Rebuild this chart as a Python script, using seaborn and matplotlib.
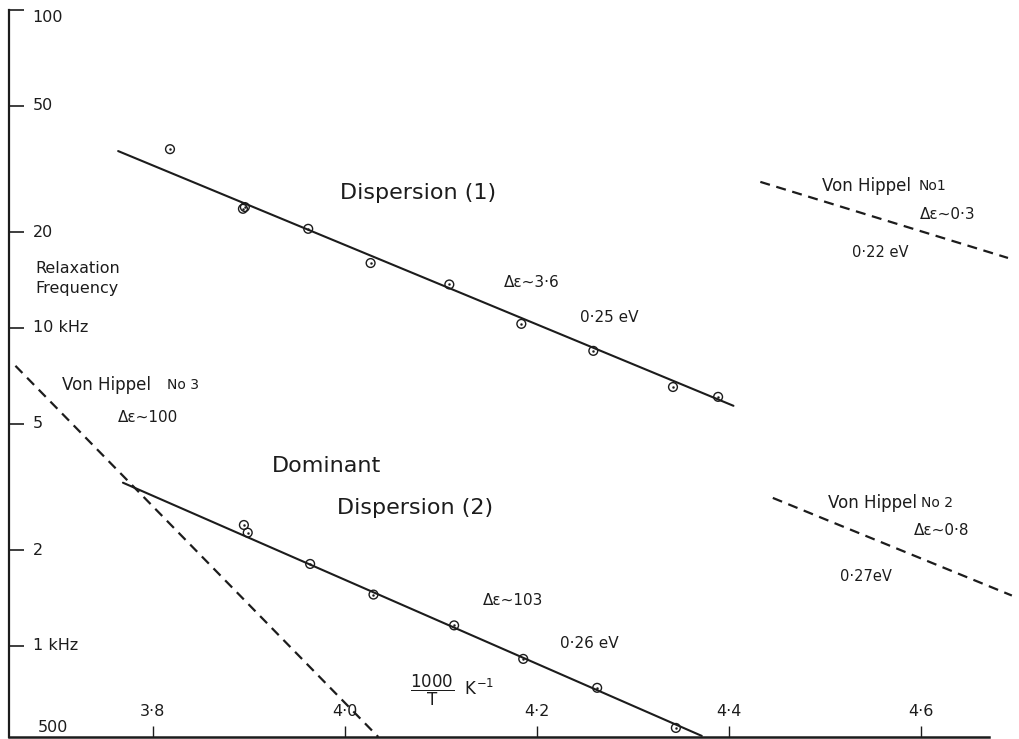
import numpy as np
import matplotlib
matplotlib.use("Agg")
import matplotlib.pyplot as plt
import seaborn as sns
import pandas as pd
from matplotlib.ticker import NullLocator

# measured points, x = 1000/T (K^-1), f = relaxation frequency (kHz)
disp1_x = [3.818, 3.894, 3.896, 3.962, 4.027, 4.109, 4.184, 4.259, 4.342, 4.389]
disp1_f = [36.5, 23.7, 24.0, 20.5, 16.0, 13.7, 10.3, 8.47, 6.52, 6.07]
disp2_x = [3.895, 3.899, 3.964, 4.030, 4.114, 4.186, 4.263, 4.345]
disp2_f = [2.40, 2.27, 1.81, 1.45, 1.16, 0.910, 0.738, 0.552]

# fitted lines (end points)
disp1_line_x = [3.764, 4.405]
disp1_line_f = [36.0, 5.69]
disp2_line_x = [3.769, 4.372]
disp2_line_f = [3.26, 0.521]

# von Hippel lines (dashed)
vh1_x = [4.433, 4.691]
vh1_f = [28.8, 16.6]
vh2_x = [4.446, 4.695]
vh2_f = [2.92, 1.44]
vh3_x = [3.657, 4.035]
vh3_f = [7.60, 0.517]

x_ticks = [3.8, 4.0, 4.2, 4.4, 4.6]
x_tick_labels = ["3·8", "4·0", "4·2", "4·4", "4·6"]
y_ticks = [1, 2, 5, 10, 20, 50, 100]
y_tick_labels = ["1 kHz", "2", "5", "10 kHz", "20", "50", "100"]

sns.set_theme(style="white")
plt.rcParams["font.family"] = ["DejaVu Sans"]
plt.rcParams["mathtext.default"] = "regular"

ink = "#1c1c1c"

fig = plt.figure(figsize=(10.2, 7.39), dpi=100)
ax = fig.add_axes([9 / 1020, 2.3 / 739, 1 - 9 / 1020, 726.7 / 739])

# fitted lines
sns.lineplot(x=disp1_line_x, y=disp1_line_f, color=ink, lw=1.5, sort=False, estimator=None, ax=ax)
sns.lineplot(x=disp2_line_x, y=disp2_line_f, color=ink, lw=1.5, sort=False, estimator=None, ax=ax)

# von Hippel dashed lines
for xs, fs in [(vh1_x, vh1_f), (vh2_x, vh2_f), (vh3_x, vh3_f)]:
    sns.lineplot(x=xs, y=fs, color=ink, lw=1.6, linestyle=(0, (4.5, 3)),
                 sort=False, estimator=None, ax=ax)

# data points: open circle with a dot in the middle
pts = pd.DataFrame({
    "x": disp1_x + disp2_x,
    "f": disp1_f + disp2_f,
})
sns.scatterplot(data=pts, x="x", y="f", marker="o", s=40, facecolor="none",
                edgecolor=ink, linewidth=1.0, ax=ax, zorder=3)
sns.scatterplot(data=pts, x="x", y="f", marker="o", s=2, color=ink,
                edgecolor=ink, linewidth=0.3, ax=ax, zorder=4)

ax.set_yscale("log")
ax.set_xlim(3.6503, 4.7035)
ax.set_ylim(0.518, 100)
ax.yaxis.set_minor_locator(NullLocator())
ax.xaxis.set_minor_locator(NullLocator())

ax.set_yticks(y_ticks, y_tick_labels, ha="left", va="center", fontsize=11.5, color=ink)
ax.set_xticks(x_ticks, x_tick_labels, va="bottom", fontsize=11.5, color=ink)
ax.get_yticklabels()[-1].set_va("top")
ax.tick_params(axis="y", which="major", left=True, direction="in", length=11,
               width=1.2, pad=-17, colors=ink)
ax.tick_params(axis="x", which="major", bottom=True, direction="in", length=8,
               width=1.0, pad=-13, colors=ink)
ax.set_xlabel("")
ax.set_ylabel("")

for side in ["top", "right"]:
    ax.spines[side].set_visible(False)
ax.spines["left"].set_linewidth(1.6)
ax.spines["left"].set_color(ink)
ax.spines["bottom"].set_linewidth(1.8)
ax.spines["bottom"].set_color(ink)
ax.spines["bottom"].set_bounds(3.6503, 4.6712)
ax.grid(False)

# annotations
def note(x, y, s, size=11.5, **kw):
    ax.text(x, y, s, fontsize=size, color=ink, ha="left", va="center", **kw)

note(3.6805, 0.552, "500")
note(3.678, 14.3, "Relaxation\nFrequency", size=11.5, linespacing=1.45)
note(4.068, 0.727, r"$\dfrac{1000}{T}$  K$^{-1}$", size=12)

note(3.995, 26.6, "Dispersion (1)", size=16)
note(4.166, 13.85, "Δε~3·6", size=11)
note(4.245, 10.75, "0·25 eV", size=11)

note(3.924, 3.68, "Dominant", size=16)
note(3.992, 2.72, "Dispersion (2)", size=16)
note(4.144, 1.385, "Δε~103", size=11)
note(4.224, 1.02, "0·26 eV", size=11)

note(3.7055, 6.62, "Von Hippel", size=12)
note(3.815, 6.62, "No 3", size=10)
note(3.764, 5.21, "Δε~100", size=11)

note(4.497, 27.97, "Von Hippel", size=12)
note(4.598, 27.97, "No1", size=10)
note(4.599, 22.8, "Δε~0·3", size=11)
note(4.529, 17.3, "0·22 eV", size=10.5)

note(4.503, 2.82, "Von Hippel", size=12)
note(4.600, 2.82, "No 2", size=10)
note(4.593, 2.30, "Δε~0·8", size=11)
note(4.516, 1.65, "0·27eV", size=10.5)

fig.savefig("out.png", dpi=100, facecolor="white")
